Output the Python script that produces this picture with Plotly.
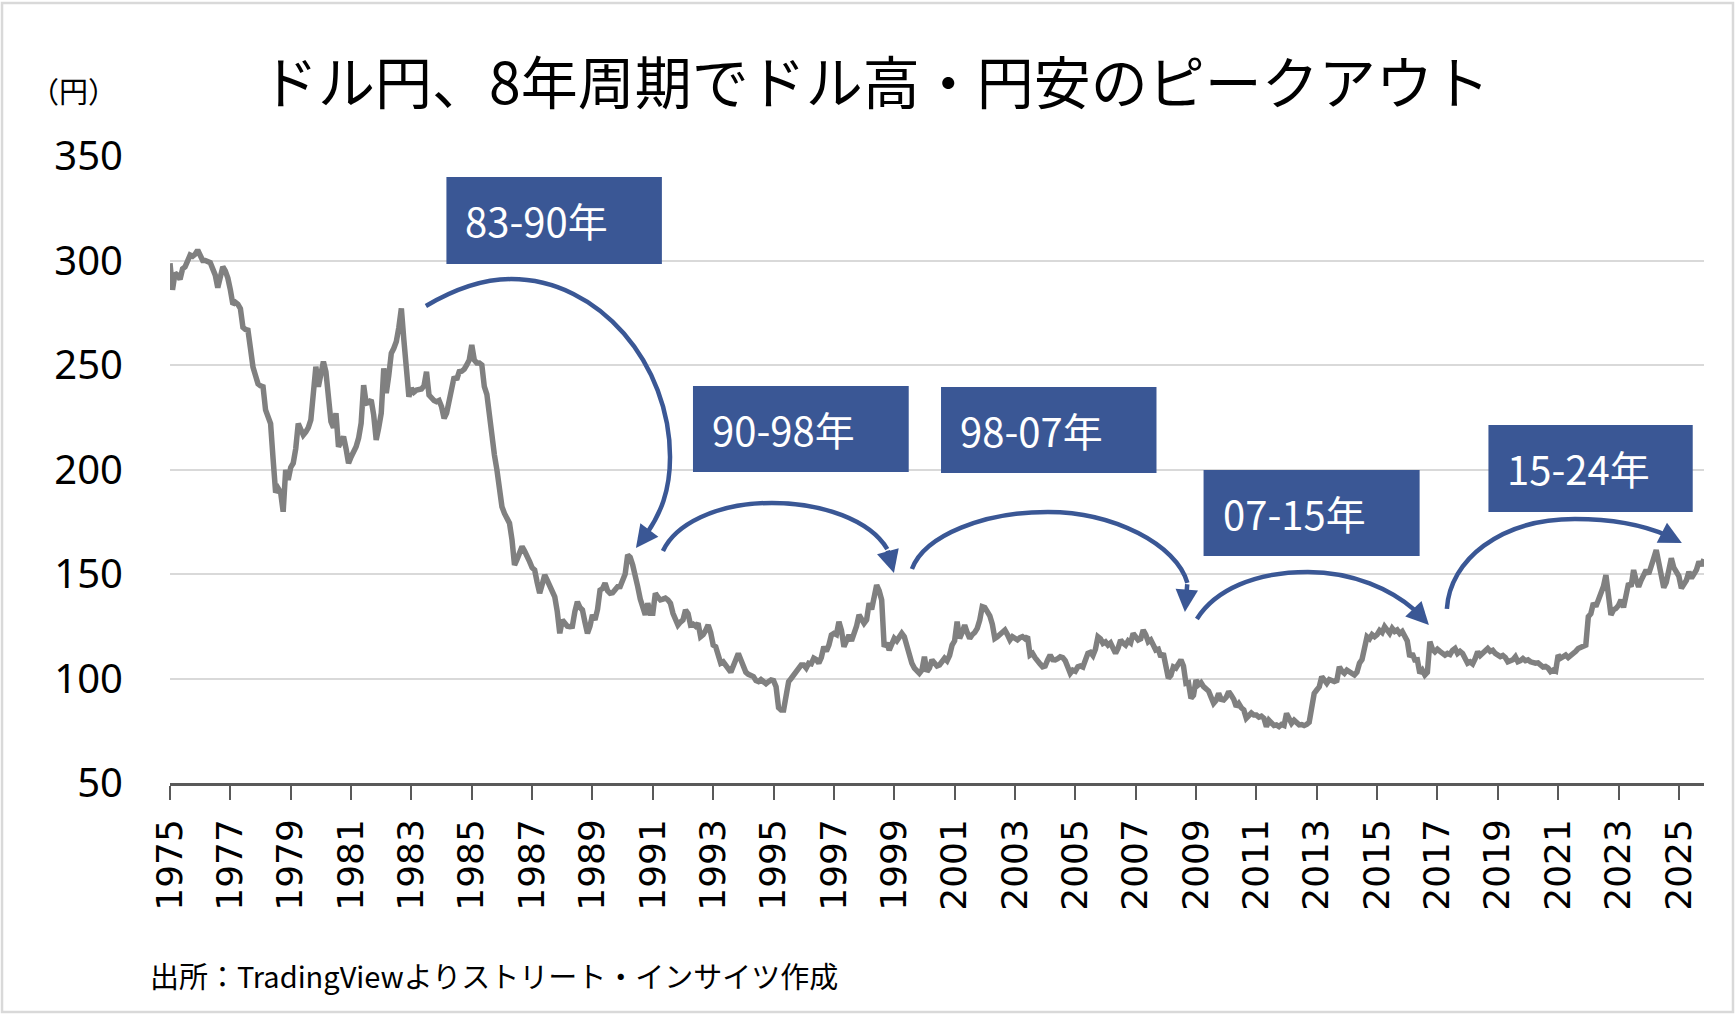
import plotly.graph_objects as go

# ---------------- data (USD/JPY, monthly) ----------------
usdjpy_1975_1984 = [
    298.7, 286, 294, 293, 291, 296, 297, 300, 302.6, 302, 303, 305,
    303, 300, 300, 299.5, 299, 296, 293, 287, 292, 297, 295, 291.6,
    286, 279, 280, 279, 277, 268, 267, 266.7, 258, 249, 245, 241,
    240, 239.6, 228.5, 225, 222, 205, 189, 191, 189, 179.8, 199.8, 195,
    201, 203, 210, 222, 219, 216.5, 218, 220, 223.7, 238, 249.2, 239.6,
    245, 251.6, 246.8, 235, 222.9, 220, 226.9, 210.9, 213, 215.7, 210, 203,
    206, 208, 210.9, 215, 222.1, 240.4, 231.7, 232, 233.3, 226, 214.1, 220,
    226.9, 248.4, 236.5, 245, 255.6, 258, 261.2, 268, 277.1, 262, 249.2, 234.8,
    238.9, 237, 238, 238, 238.5, 240, 246.8, 235.6, 234, 233, 232.4, 233,
    230, 224.5, 227, 233.3, 238, 244.4, 243, 246.8, 247, 248, 250, 252.4,
]
usdjpy_1985_1994 = [
    259.6, 252.4, 251, 251, 250, 239.6, 236, 225, 214.1, 207, 199.8, 192,
    182.2, 179, 176.5, 174.3, 166.3, 154.3, 157, 160, 163.1, 161, 159, 155.9,
    153, 151.9, 146, 140.8, 145, 149.5, 147, 143.9, 142, 139.1, 132, 121.6,
    128, 126, 125, 124.8, 125, 132, 136.7, 134, 132.8, 127, 121.6, 125,
    130.4, 128, 133, 142.3, 143, 145.6, 142, 140.8, 141, 142.5, 143.9, 144,
    147.1, 150, 159.1, 158, 154.3, 150, 143.9, 138, 134, 130.4, 136, 131.2,
    131.2, 140.8, 139, 137.6, 138, 138.5, 137.6, 136, 131.2, 129, 125.6, 127,
    128, 132.8, 131, 125.6, 126, 125, 126.4, 120, 121, 123, 125.6, 122,
    116, 115.2, 112, 107.3, 108, 106, 104.9, 103, 106, 108.5, 112, 109,
    104.9, 103, 102, 101.5, 100.9, 99, 98.5, 99.5, 98.5, 97.5, 98.5, 99.3,
]
usdjpy_1995_2004 = [
    99, 96.1, 86, 84.9, 84.9, 92, 98.5, 100, 101.7, 103, 104, 106.5,
    106.5, 105, 107.3, 107, 109.7, 109, 107.3, 110, 115.2, 113, 116, 120.8,
    121.6, 121, 127.2, 123, 115.2, 118, 120.8, 118, 120.8, 125, 130.4, 128,
    126.4, 128, 136, 133, 139, 144.7, 142, 137.6, 115.2, 117, 113.6, 116,
    119.2, 118, 120, 121.6, 120, 115, 110, 107.3, 105, 104, 102.5, 104,
    110.4, 103.3, 105, 108.9, 107.5, 106, 106.5, 108, 109.7, 108.5, 111, 116,
    118, 127.2, 119.2, 122, 125.6, 122, 119.2, 121, 122, 124, 128, 134.4,
    134, 132, 130, 126, 119.2, 120, 121, 122, 123.2, 121, 118.4, 120,
    119, 118.5, 119.5, 120, 119, 120, 111.2, 112, 110, 108, 107, 105.6,
    106, 108.9, 111.2, 109, 108.9, 109.5, 110.4, 110, 108.5, 105.5, 102.5, 104,
]
usdjpy_2005_2014 = [
    103.5, 105.6, 106, 105.5, 108, 112, 112.5, 111, 114, 120, 119, 116.8,
    117.5, 116, 117, 113.6, 112, 114.5, 118.4, 117, 116, 118, 117, 121.6,
    120, 118.4, 119, 123.2, 121, 117.6, 118.5, 116, 113.6, 114, 110.4, 112,
    106, 100.1, 101.5, 105.6, 105, 106.5, 108.9, 106, 97.7, 98, 90.5, 92,
    99.3, 97, 98, 96.1, 95, 94, 91, 88.1, 89.5, 92.9, 90, 89.7,
    91, 93.7, 92, 90, 86.5, 88, 86, 85, 81, 82, 83.5, 82.5,
    82.5, 81.5, 82, 81, 76.9, 80, 79, 77.5, 77.8, 77, 78, 77.5,
    83.3, 81, 78.6, 80, 79, 77.8, 78, 77.5, 78, 79, 86, 92.9,
    94.5, 96, 100.9, 99, 97.7, 99.5, 99, 98.5, 99, 105.6, 103.5, 102.5,
    104, 103, 102.5, 101.7, 103, 107.3, 109, 114, 120, 119, 121, 120,
]
usdjpy_2015_2025 = [
    121, 123, 122, 124.8, 123.5, 121.6, 124, 122.5, 123.2, 121.5, 122.5, 120.8,
    118, 110.4, 112, 108.9, 109, 102.5, 104, 101.7, 103, 117.6, 114, 112.8,
    114, 113, 112, 111.2, 112, 111.5, 113.5, 114.4, 112, 113, 112, 110,
    107.3, 108, 107, 109.5, 112.8, 111, 112, 113, 114.4, 113, 113.5, 112,
    111.2, 110.5, 111, 110, 108, 108.5, 109, 110.4, 108, 108.5, 109.5, 108.5,
    108.9, 108, 107.5, 107.3, 107.5, 106.5, 105.5, 105.8, 105, 103.3, 104, 103.5,
    111.2, 109.7, 110.5, 111.2, 110, 111, 111.5, 113, 114.4, 115, 115.8, 116,
    129.6, 131, 136, 134.5, 137.6, 140.8, 144, 149.5, 141, 130.4, 132.8, 133.5,
    135, 137.6, 134, 139.5, 145.6, 144, 151.9, 147, 143.9, 147, 149.5, 151.9,
    150, 155, 157.5, 161.5, 156, 150, 143.5, 146, 152, 157.5, 153, 151,
    149, 143.2, 145, 147, 151.1, 148, 150, 152, 155.9, 154, 157,
]
start_year = 1975
x_tick_years = list(range(1975, 2026, 2))
y_ticks = [50, 100, 150, 200, 250, 300, 350]

# Period labels and the arcs (cubic Bezier control points in data units)
period_labels = ["83-90年", "90-98年", "98-07年", "07-15年", "15-24年"]
label_boxes = [  # (x0, x1, y0, y1) in data units
    (1984.16, 1991.30, 298.3, 340.0),
    (1992.33, 1999.48, 198.8, 240.0),
    (2000.55, 2007.69, 198.3, 239.5),
    (2009.25, 2016.41, 158.6, 199.8),
    (2018.69, 2025.46, 179.7, 221.3),
]
arcs = [
    [(1983.48, 278.2), (1984.44, 286.4), (1985.37, 291.1), (1986.30, 291.1),
     (1989.25, 291.1), (1991.57, 250.0), (1991.57, 206.0),
     (1991.57, 185.4), (1991.07, 173.9), (1990.44, 162.4)],
    [(1991.335, 161.0), (1991.733, 173.4), (1993.058, 184.0), (1994.947, 184.0),
     (1997.034, 184.0), (1998.989, 171.1), (1998.989, 150.5)],
    [(1999.586, 152.4), (2000.017, 168.7), (2002.005, 179.7), (2004.092, 179.7),
     (2006.809, 179.7), (2009.394, 155.3), (2008.632, 131.8)],
    [(2009.029, 128.5), (2009.626, 142.3), (2010.951, 151.0), (2012.707, 151.0),
     (2014.596, 151.0), (2016.087, 137.6), (2016.717, 125.6)],
    [(2017.313, 133.3), (2017.412, 156.7), (2019.069, 176.3), (2021.555, 176.3),
     (2023.212, 176.3), (2024.372, 171.1), (2025.100, 164.8)],
]

title_text = "ドル円、8年周期でドル高・円安のピークアウト"
unit_text = "（円）"
source_text = "出所：TradingViewよりストリート・インサイツ作成"

# ---------------- figure ----------------
BLUE = "#3A5795"
LINE_GRAY = "#808080"
GRID = "#D9D9D9"
AXIS = "#595959"
JP = "Noto Sans CJK JP"

values = usdjpy_1975_1984 + usdjpy_1985_1994 + usdjpy_1995_2004 + usdjpy_2005_2014 + usdjpy_2015_2025
x_vals = [start_year + i / 12 for i in range(len(values))]

fig = go.Figure()
fig.add_trace(go.Scatter(x=x_vals, y=values, mode="lines",
                         line=dict(color=LINE_GRAY, width=5.5),
                         hoverinfo="skip", showlegend=False))


def lerp(a, b, t):
    return (a[0] + (b[0] - a[0]) * t, a[1] + (b[1] - a[1]) * t)


shapes = []
annotations = []
for pts in arcs:
    segs = [pts[i:i + 4] for i in range(0, len(pts) - 1, 3)]
    # split last segment so the arrow head sits at the end
    p0, p1, p2, p3 = segs[-1]
    t = 0.8
    a = lerp(p0, p1, t); b = lerp(p1, p2, t); c = lerp(p2, p3, t)
    d = lerp(a, b, t); e = lerp(b, c, t); m = lerp(d, e, t)
    segs[-1] = [p0, a, d, m]
    path = "M %f,%f" % segs[0][0]
    for s in segs:
        path += " C %f,%f %f,%f %f,%f" % (s[1][0], s[1][1], s[2][0], s[2][1], s[3][0], s[3][1])
    shapes.append(dict(type="path", xref="x", yref="y", path=path,
                       line=dict(color=BLUE, width=4.5), layer="above"))
    annotations.append(dict(x=p3[0], y=p3[1], ax=m[0], ay=m[1], xref="x", yref="y",
                            axref="x", ayref="y", text="", showarrow=True,
                            arrowhead=2, arrowsize=1.0, arrowwidth=4.5,
                            arrowcolor=BLUE, standoff=0, startstandoff=0))

for (x0, x1, y0, y1), lab in zip(label_boxes, period_labels):
    shapes.append(dict(type="rect", xref="x", yref="y", x0=x0, x1=x1, y0=y0, y1=y1,
                       fillcolor=BLUE, line=dict(width=0), layer="above"))
    annotations.append(dict(x=x0, y=(y0 + y1) / 2, xref="x", yref="y", text=lab,
                            showarrow=False, xanchor="left", yanchor="middle",
                            xshift=18, borderpad=0,
                            font=dict(family=JP, size=40, color="white")))

# outer frame
shapes.append(dict(type="rect", xref="paper", yref="paper",
                   x0=-0.1095, x1=1.0189, y0=-0.3652, y1=1.2440,
                   line=dict(color="#D9D9D9", width=2.5), layer="below"))

annotations.append(dict(x=0.4596, y=1.1228, xref="paper", yref="paper", text=title_text,
                        showarrow=False, xanchor="center", yanchor="middle",
                        font=dict(family=JP, size=57, color="black")))
annotations.append(dict(x=-0.0632, y=1.1053, xref="paper", yref="paper", text=unit_text,
                        showarrow=False, xanchor="center", yanchor="middle",
                        font=dict(family=JP, size=29, color="black")))
annotations.append(dict(x=-0.0143, y=-0.3062, xref="paper", yref="paper", text=source_text,
                        showarrow=False, xanchor="left", yanchor="middle",
                        font=dict(family=JP, size=29, color="black")))

fig.update_layout(
    width=1736, height=1016, autosize=False,
    margin=dict(l=170, r=32, t=156, b=233, pad=0),
    paper_bgcolor="white", plot_bgcolor="white",
    showlegend=False,
    shapes=shapes, annotations=annotations,
    xaxis=dict(range=[1975, x_vals[-1]], tickmode="array", tickvals=x_tick_years,
               ticktext=[str(y) for y in x_tick_years], tickangle=-90,
               ticks="outside", ticklen=14, tickwidth=2, tickcolor=AXIS,
               showline=True, linecolor=AXIS, linewidth=2.5,
               showgrid=False, zeroline=False, ticklabelstandoff=5,
               tickfont=dict(family="DejaVu Sans", size=36, color="black")),
    yaxis=dict(range=[50, 350], tickmode="array", tickvals=y_ticks,
               ticktext=[str(v) for v in y_ticks],
               showgrid=True, gridcolor=GRID, gridwidth=2, zeroline=False,
               showline=False, ticks="", ticklabelstandoff=46,
               tickfont=dict(family="Noto Sans", size=40, color="black")),
)

fig.write_html("out.html", config={"displayModeBar": False})
